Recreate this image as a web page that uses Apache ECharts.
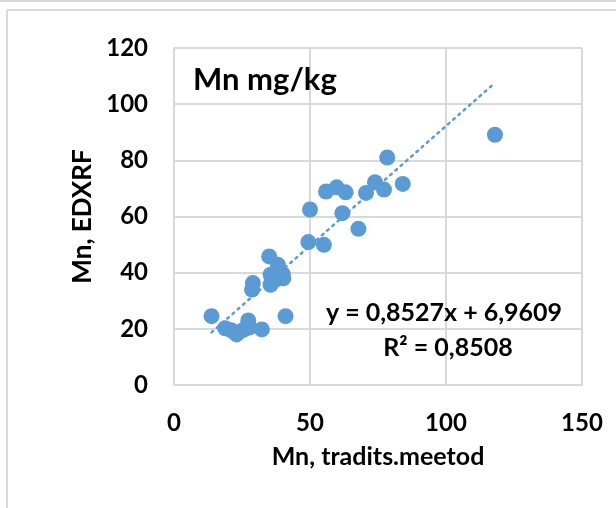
<!DOCTYPE html>
<html>
<head>
<meta charset="utf-8">
<script src="https://cdn.jsdelivr.net/npm/echarts@6/dist/echarts.min.js"></script>
<style>
  html, body { margin: 0; padding: 0; background: #ffffff; }
  #chart { width: 616px; height: 508px; }
</style>
</head>
<body>
<div id="chart"></div>
<script>
// Mn measured by the traditional method (x) and by EDXRF (y), mg/kg
var mnTraditional = [13.8, 18.8, 21.0, 23.0, 25.5, 27.3, 27.8, 32.3, 41.0,
  29.0, 28.7, 35.0, 38.2, 35.5, 35.5, 37.0, 40.0, 40.2, 38.5, 36.5,
  49.4, 55.1, 50.0, 61.9, 67.8, 55.9, 59.8, 63.1, 70.6, 73.9, 77.2,
  78.4, 84.1, 118.0];
var mnEdxrf = [24.5, 20.2, 19.5, 18.0, 19.6, 23.0, 20.5, 19.8, 24.5,
  36.3, 34.0, 45.8, 42.8, 39.3, 35.7, 37.3, 39.5, 38.0, 40.5, 38.5,
  50.9, 49.9, 62.5, 61.2, 55.6, 68.9, 70.4, 68.6, 68.4, 72.2, 69.6,
  81.0, 71.6, 89.1];

// Linear trend fitted in the spreadsheet
var trendSlope = 0.8527;
var trendIntercept = 6.9609;
var trendText = 'y = 0,8527x + 6,9609';
var r2Text = 'R² = 0,8508';

var xTicks = { min: 0, max: 150, interval: 50 };
var yTicks = { min: 0, max: 120, interval: 20 };

var points = mnTraditional.map(function (x, i) { return [x, mnEdxrf[i]]; });
var xLo = Math.min.apply(null, mnTraditional);
var xHi = Math.max.apply(null, mnTraditional);
var trendPoints = [[xLo, trendSlope * xLo + trendIntercept], [xHi, trendSlope * xHi + trendIntercept]];

var FONT = 'Lato, "Open Sans", sans-serif';
var BLUE = '#5B9BD5';
var GRID = '#d9d9d9';

var chart = echarts.init(document.getElementById('chart'), null, { renderer: 'canvas' });
chart.setOption({
  animation: false,
  backgroundColor: '#ffffff',
  grid: { left: 174, right: 34, top: 48, bottom: 123 },
  xAxis: {
    type: 'value', min: xTicks.min, max: xTicks.max, interval: xTicks.interval,
    name: 'Mn, tradits.meetod', nameLocation: 'middle', nameGap: 59,
    nameTextStyle: { fontFamily: FONT, fontWeight: 'bold', fontSize: 25, color: '#000' },
    axisLine: { show: true, lineStyle: { color: GRID, width: 2 } },
    axisTick: { show: false },
    axisLabel: { fontFamily: FONT, fontWeight: 'bold', fontSize: 24, color: '#000', margin: 26 },
    splitLine: { show: true, lineStyle: { color: GRID, width: 2 } }
  },
  yAxis: {
    type: 'value', min: yTicks.min, max: yTicks.max, interval: yTicks.interval,
    name: 'Mn, EDXRF', nameLocation: 'middle', nameGap: 76, nameRotate: 90,
    nameTextStyle: { fontFamily: FONT, fontWeight: 'bold', fontSize: 26, color: '#000' },
    axisLine: { show: true, lineStyle: { color: GRID, width: 2 } },
    axisTick: { show: false },
    axisLabel: { fontFamily: FONT, fontWeight: 'bold', fontSize: 24, color: '#000', margin: 26 },
    splitLine: { show: true, lineStyle: { color: GRID, width: 2 } }
  },
  series: [
    {
      type: 'line', data: trendPoints, symbol: 'none', silent: true, z: 1,
      lineStyle: { color: BLUE, width: 2.5, type: [2, 5], cap: 'round' }
    },
    {
      type: 'scatter', data: points, symbol: 'circle', symbolSize: 16, z: 2,
      itemStyle: { color: BLUE, opacity: 1 }
    }
  ],
  graphic: [
    { type: 'line', shape: { x1: 0, y1: 1, x2: 616, y2: 1 }, style: { stroke: GRID, lineWidth: 2 } },
    { type: 'line', shape: { x1: 7, y1: 10, x2: 616, y2: 10 }, style: { stroke: GRID, lineWidth: 2 } },
    { type: 'line', shape: { x1: 7, y1: 10, x2: 7, y2: 508 }, style: { stroke: GRID, lineWidth: 2 } },
    { type: 'text', x: 193, y: 80, z: 10,
      style: { text: 'Mn mg/kg', font: 'bold 31px ' + FONT, fill: '#000', verticalAlign: 'middle' } },
    { type: 'text', x: 444, y: 313, z: 10,
      style: { text: trendText, font: 'bold 25px ' + FONT, fill: '#000', align: 'center', verticalAlign: 'middle' } },
    { type: 'text', x: 448, y: 348, z: 10,
      style: { text: r2Text, font: 'bold 25px ' + FONT, fill: '#000', align: 'center', verticalAlign: 'middle' } }
  ]
});
</script>
</body>
</html>
